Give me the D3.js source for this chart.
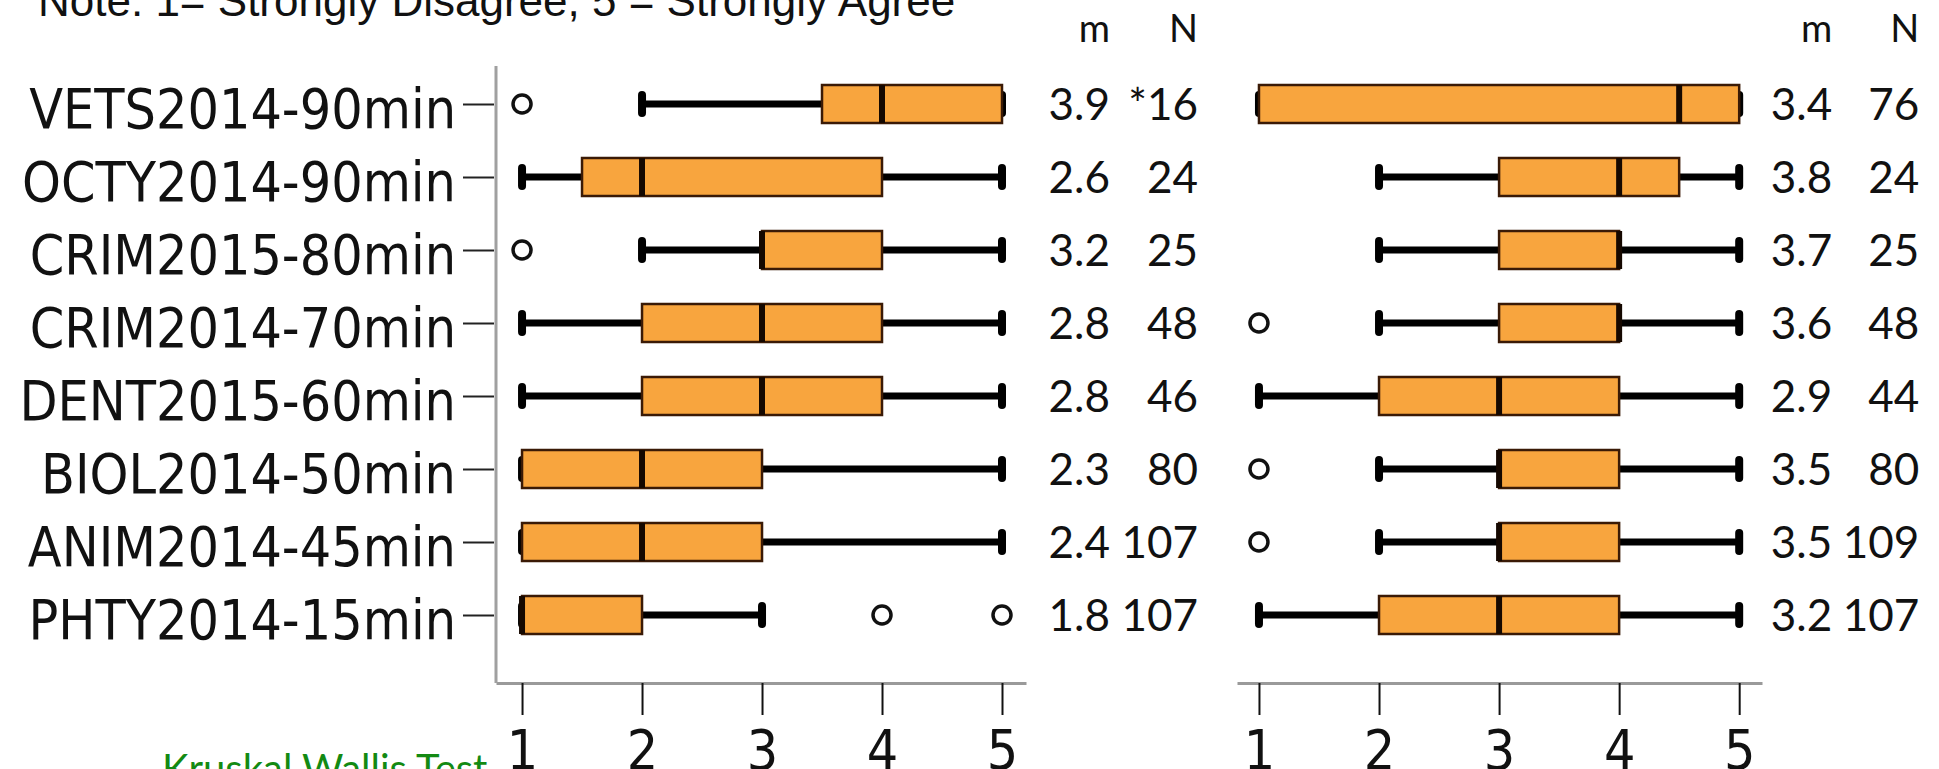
<!DOCTYPE html>
<html>
<head>
<meta charset="utf-8">
<script src="https://cdn.jsdelivr.net/npm/d3@7"></script>
<style>
  body { margin: 0; background: #fff; }
</style>
</head>
<body>
<div id="chart"></div>
<script>
// categories (top to bottom)
const categories = ["VETS2014-90min", "OCTY2014-90min", "CRIM2015-80min", "CRIM2014-70min",
                    "DENT2015-60min", "BIOL2014-50min", "ANIM2014-45min", "PHTY2014-15min"];

// left panel: five-number summaries
const leftLow     = [2, 1, 2, 1, 1, 1, 1, 1];
const leftQ1      = [3.5, 1.5, 3, 2, 2, 1, 1, 1];
const leftMedian  = [4, 2, 3, 3, 3, 2, 2, 1];
const leftQ3      = [5, 4, 4, 4, 4, 3, 3, 2];
const leftHigh    = [5, 5, 5, 5, 5, 5, 5, 3];
const leftOutliers = [[1], [], [1], [], [], [], [], [4, 5]];
const leftMean    = ["3.9", "2.6", "3.2", "2.8", "2.8", "2.3", "2.4", "1.8"];
const leftN       = ["*16", "24", "25", "48", "46", "80", "107", "107"];

// right panel
const rightLow     = [1, 2, 2, 2, 1, 2, 2, 1];
const rightQ1      = [1, 3, 3, 3, 2, 3, 3, 2];
const rightMedian  = [4.5, 4, 4, 4, 3, 3, 3, 3];
const rightQ3      = [5, 4.5, 4, 4, 4, 4, 4, 4];
const rightHigh    = [5, 5, 5, 5, 5, 5, 5, 5];
const rightOutliers = [[], [], [], [1], [], [1], [1], []];
const rightMean    = ["3.4", "3.8", "3.7", "3.6", "2.9", "3.5", "3.5", "3.2"];
const rightN       = ["76", "24", "25", "48", "44", "80", "109", "107"];

const tickValues = [1, 2, 3, 4, 5];

const width = 1939;
const height = 769;
const svg = d3.select("#chart").append("svg")
    .attr("width", width)
    .attr("height", height)
    .style("display", "block");

const labelFont = "'DejaVu Sans Condensed', 'DejaVu Sans', sans-serif";
const numFont = "Lato, 'Open Sans', sans-serif";
const boxFill = "#f8a53e";
const boxStroke = "#3a1a06";

const y = d3.scalePoint().domain(categories).range([104, 615]);
const xLeft = d3.scaleLinear().domain([0.783, 5.2]).range([496, 1026]);
const xRight = d3.scaleLinear().domain([0.817, 5.19]).range([1237, 1762]);
const axisY = 683;
const boxH = 38;

// title (cut off at the top like the original)
svg.append("text")
    .attr("x", 38)
    .attr("y", 16)
    .text("Note: 1= Strongly Disagree, 5 = Strongly Agree")
    .style("font-family", "'Liberation Sans', Arial, sans-serif")
    .style("font-size", "44px")
    .style("fill", "#111");

function drawPanel(x, low, q1, med, q3, high, outliers, mean, n, mX, nX, withYAxis) {
    const rows = categories.map((c, i) => ({
        cat: c, low: low[i], q1: q1[i], med: med[i], q3: q3[i], high: high[i], out: outliers[i]
    }));

    // x axis
    const xa = svg.append("g")
        .attr("transform", `translate(0,${axisY})`)
        .call(d3.axisBottom(x).tickValues(tickValues).tickFormat(d3.format("d"))
            .tickSizeInner(32).tickSizeOuter(0).tickPadding(15));
    xa.select(".domain").attr("stroke", "#9a9a9a").attr("stroke-width", 3);
    xa.selectAll(".tick line").attr("stroke", "#111").attr("stroke-width", 2);
    xa.selectAll(".tick text")
        .style("font-family", labelFont)
        .style("font-stretch", "condensed")
        .style("font-size", "55px")
        .style("fill", "#111");

    if (withYAxis) {
        svg.append("line")
            .attr("x1", x.range()[0]).attr("x2", x.range()[0])
            .attr("y1", 66).attr("y2", axisY)
            .attr("stroke", "#a0a0a0").attr("stroke-width", 3);
        const ya = svg.append("g")
            .attr("transform", `translate(${x.range()[0] - 2},0)`)
            .call(d3.axisLeft(y).tickSize(31).tickPadding(7));
        ya.select(".domain").remove();
        ya.selectAll(".tick line").attr("stroke", "#222").attr("stroke-width", 2);
        ya.selectAll(".tick text")
            .attr("dy", "0.42em")
            .style("font-family", labelFont)
            .style("font-stretch", "condensed")
            .style("font-size", "55px")
            .style("fill", "#111");
    }

    const g = svg.append("g");

    // whiskers
    g.selectAll(".whisker").data(rows).join("line")
        .attr("x1", d => x(d.low)).attr("x2", d => x(d.high))
        .attr("y1", d => y(d.cat)).attr("y2", d => y(d.cat))
        .attr("stroke", "#000").attr("stroke-width", 7);

    // caps
    rows.forEach(d => {
        [d.low, d.high].forEach(v => {
            g.append("line")
                .attr("x1", x(v)).attr("x2", x(v))
                .attr("y1", y(d.cat) - 9).attr("y2", y(d.cat) + 9)
                .attr("stroke", "#000").attr("stroke-width", 8)
                .attr("stroke-linecap", "round");
        });
    });

    // boxes
    g.selectAll(".box").data(rows).join("rect")
        .attr("x", d => x(d.q1))
        .attr("y", d => y(d.cat) - boxH / 2)
        .attr("width", d => x(d.q3) - x(d.q1))
        .attr("height", boxH)
        .attr("fill", boxFill)
        .attr("stroke", boxStroke)
        .attr("stroke-width", 2.5);

    // medians
    g.selectAll(".median").data(rows).join("line")
        .attr("x1", d => x(d.med)).attr("x2", d => x(d.med))
        .attr("y1", d => y(d.cat) - boxH / 2).attr("y2", d => y(d.cat) + boxH / 2)
        .attr("stroke", "#150800").attr("stroke-width", 6);

    // outliers
    rows.forEach(d => {
        d.out.forEach(v => {
            g.append("circle")
                .attr("cx", x(v)).attr("cy", y(d.cat))
                .attr("r", 9)
                .attr("fill", "#fff")
                .attr("stroke", "#111")
                .attr("stroke-width", 3.5);
        });
    });

    // m / N columns
    svg.append("text").attr("x", mX).attr("y", 42).attr("text-anchor", "end").text("m")
        .style("font-family", numFont).style("font-size", "38px").style("fill", "#111");
    svg.append("text").attr("x", nX).attr("y", 42).attr("text-anchor", "end").text("N")
        .style("font-family", numFont).style("font-size", "38px").style("fill", "#111");

    categories.forEach((c, i) => {
        svg.append("text").attr("x", mX).attr("y", y(c) + 16).attr("text-anchor", "end").text(mean[i])
            .style("font-family", numFont).style("font-size", "44px").style("fill", "#111");
        svg.append("text").attr("x", nX).attr("y", y(c) + 16).attr("text-anchor", "end").text(n[i])
            .style("font-family", numFont).style("font-size", "44px").style("fill", "#111");
    });
}

drawPanel(xLeft, leftLow, leftQ1, leftMedian, leftQ3, leftHigh, leftOutliers, leftMean, leftN,
          xLeft(5) + 108, xLeft(5) + 196, true);
drawPanel(xRight, rightLow, rightQ1, rightMedian, rightQ3, rightHigh, rightOutliers, rightMean, rightN,
          xRight(5) + 93, xRight(5) + 180, false);

// footnote, cut off at the bottom
svg.append("text")
    .attr("x", 162)
    .attr("y", 783)
    .text("Kruskal Wallis Test")
    .style("font-family", numFont)
    .style("font-size", "40px")
    .style("fill", "#138a13");
</script>
</body>
</html>
